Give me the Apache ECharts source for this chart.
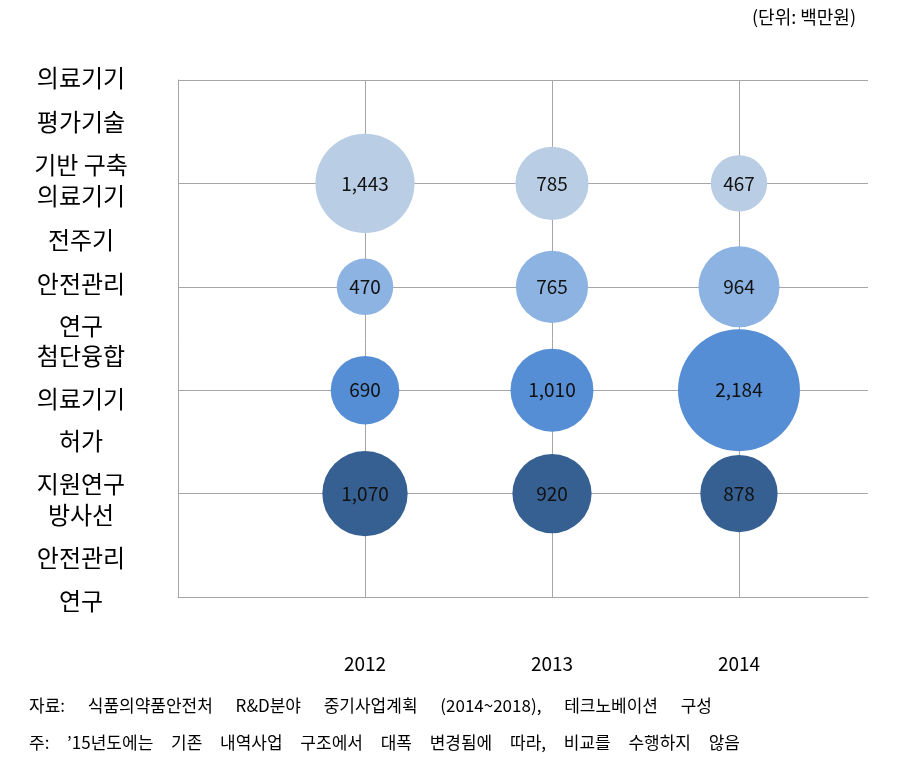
<!DOCTYPE html>
<html><head><meta charset="utf-8">
<script src="https://cdn.jsdelivr.net/npm/echarts@6/dist/echarts.min.js"></script>
<style>html,body{margin:0;padding:0;background:#fff}#c{width:898px;height:773px}</style>
</head><body><div id="c"></div>
<script>
const years = ['2012', '2013', '2014'];
const categories = ['의료기기 평가기술 기반 구축', '의료기기 전주기 안전관리 연구', '첨단융합 의료기기 허가 지원연구', '방사선 안전관리 연구'];
const labelLines = [['의료기기', '평가기술', '기반 구축'], ['의료기기', '전주기', '안전관리', '연구'], ['첨단융합', '의료기기', '허가', '지원연구'], ['방사선', '안전관리', '연구']];
const rowPos = [4, 3, 2, 1];
const values1 = [1443, 785, 467];
const values2 = [470, 765, 964];
const values3 = [690, 1010, 2184];
const values4 = [1070, 920, 878];
const allValues = [values1, values2, values3, values4];
const colors = ['#b9cde5', '#8db3e2', '#558ed5', '#376092'];
const unitText = '(단위: 백만원)';
const note1 = '자료: 식품의약품안전처 R&D분야 중기사업계획 (2014~2018), 테크노베이션 구성';
const note2 = "주: ’15년도에는 기존 내역사업 구조에서 대폭 변경됨에 따라, 비교를 수행하지 않음";

const chart = echarts.init(document.getElementById('c'));
const gridLine = '#a6a6a6';
const FONT = '"Noto Sans CJK KR"';
const series = allValues.map((vals, i) => ({
  name: categories[i],
  type: 'scatter',
  data: vals.map((v, j) => [j + 1, rowPos[i], v]),
  symbolSize: d => 2.61 * Math.sqrt(d[2]),
  itemStyle: { color: colors[i], opacity: 1 },
  label: {
    show: true, position: 'inside',
    formatter: p => p.value[2].toLocaleString('en-US'),
    color: '#111', fontSize: 19, fontFamily: FONT
  },
  emphasis: { disabled: true }
}));

// measuring helper for spreading words of a line between two x positions
const mctx = document.createElement('canvas').getContext('2d');
function spreadWords(text, x0, x1, y, size) {
  const font = size + 'px ' + FONT;
  mctx.font = font;
  const words = text.split(' ');
  const widths = words.map(w => mctx.measureText(w).width);
  const total = widths.reduce((a, b) => a + b, 0);
  const gap = words.length > 1 ? (x1 - x0 - total) / (words.length - 1) : 0;
  let x = x0;
  return words.map((w, i) => {
    const el = { type: 'text', x: x, y: y, style: { text: w, fill: '#000', font: font, textAlign: 'left', textVerticalAlign: 'middle' } };
    x += widths[i] + gap;
    return el;
  });
}

const lineYs = [[78, 122, 165], [196, 240, 284, 326], [356, 399, 441, 484], [515, 558, 601]];
let graphics = [];
labelLines.forEach((lines, i) => lines.forEach((t, k) => {
  graphics.push({ type: 'text', x: 81, y: lineYs[i][k], style: { text: t, fill: '#000', font: '24px ' + FONT, textAlign: 'center', textVerticalAlign: 'middle' } });
}));
graphics.push({ type: 'text', x: 856, y: 17, style: { text: unitText, fill: '#000', font: '18px ' + FONT, textAlign: 'right', textVerticalAlign: 'middle' } });
graphics = graphics.concat(spreadWords(note1, 29, 712, 706, 17));
graphics = graphics.concat(spreadWords(note2, 29, 740, 743, 17));

chart.setOption({
  animation: false,
  grid: { left: 178, top: 80, right: 30, bottom: 176 },
  xAxis: {
    type: 'value', min: 0, max: 3.69, interval: 1,
    axisLine: { show: true, lineStyle: { color: gridLine } },
    axisTick: { show: false },
    axisLabel: { margin: 57, fontSize: 19, color: '#000', fontFamily: FONT, showMaxLabel: false, showMinLabel: false,
      formatter: v => (Number.isInteger(v) && v >= 1 && v <= 3) ? years[v - 1] : '' },
    splitLine: { show: true, showMaxLine: false, lineStyle: { color: gridLine, width: 1 } }
  },
  yAxis: {
    type: 'value', min: 0, max: 5, interval: 1,
    axisLine: { show: true, lineStyle: { color: gridLine } },
    axisTick: { show: false },
    axisLabel: { show: false },
    splitLine: { show: true, lineStyle: { color: gridLine, width: 1 } }
  },
  series: series,
  graphic: graphics
});
</script></body></html>
